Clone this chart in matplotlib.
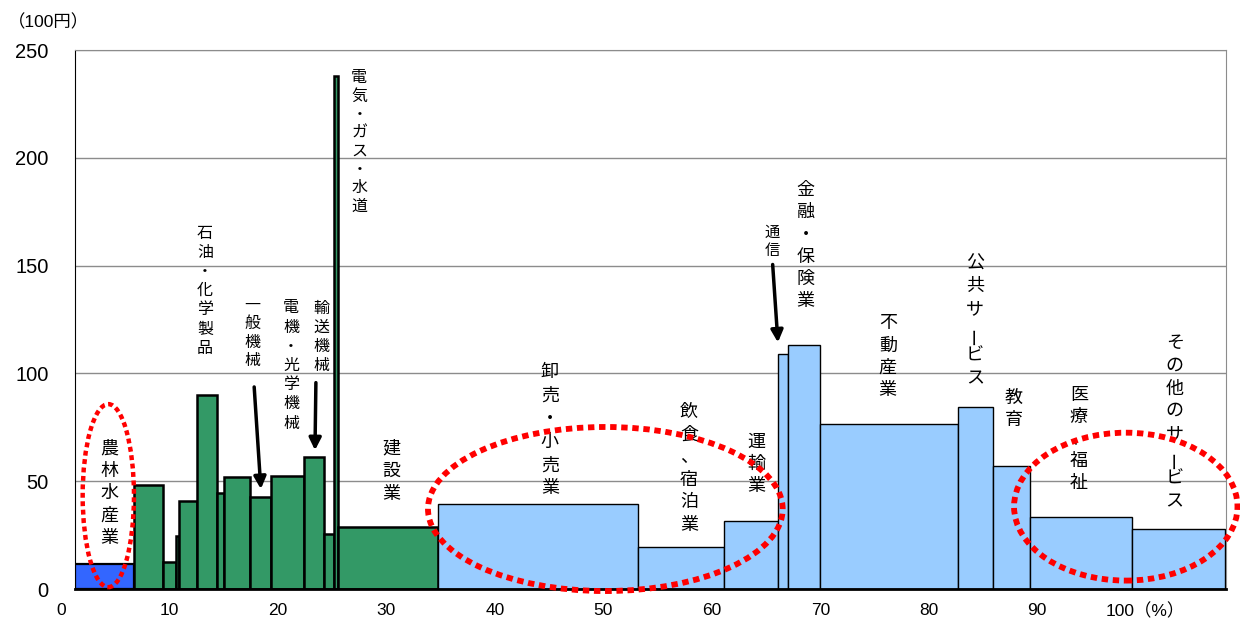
import numpy as np
import matplotlib
matplotlib.use("Agg")
import matplotlib.pyplot as plt
from matplotlib.patches import Ellipse

plt.rcParams['font.family'] = ['Liberation Sans', 'Noto Sans CJK JP']
JP = ['Noto Sans CJK JP', 'DejaVu Sans']

# share of workers (%) and value added per worker (100 yen)
widths = [5.44, 2.70, 1.14, 0.33, 1.60, 1.84, 0.65, 2.45, 1.88, 3.10, 1.84, 0.92,
          0.37, 9.22, 18.43, 7.96, 4.98, 0.92, 2.88, 12.75, 3.23, 3.41, 9.40, 8.57]
heights = [11.7, 48.4, 12.7, 24.4, 41.0, 89.8, 44.4, 51.8, 42.8, 52.4, 61.1, 25.4,
           237.8, 28.9, 39.3, 19.5, 31.7, 108.8, 113.3, 76.5, 84.6, 57.0, 33.2, 27.7]
groups = ['agri'] + ['mfg'] * 13 + ['svc'] * 10
xticks = [10, 20, 30, 40, 50, 60, 70, 80, 90, 100]
xticklabels = ['10', '20', '30', '40', '50', '60', '70', '80', '90', '100（%）']
yticks = [0, 50, 100, 150, 200, 250]

colors = {'agri': '#3366FF', 'mfg': '#339966', 'svc': '#99CCFF'}
edge_lw = {'agri': 1.6, 'mfg': 1.8, 'svc': 1.0}

x_start = 1.29
lefts = x_start + np.concatenate([[0], np.cumsum(widths)[:-1]])

fig = plt.figure(figsize=(12.4, 6.26), dpi=100)
ax = fig.add_axes([0.0605, 0.0591, 0.9282, 0.861])

for l, w, h, g in zip(lefts, widths, heights, groups):
    ax.bar(l, h, width=w, align='edge', color=colors[g], edgecolor='black',
           linewidth=edge_lw[g], zorder=3)

ax.set_yticks(yticks)
ax.yaxis.grid(True, color='#8c8c8c', linewidth=1.0)
ax.set_axisbelow(True)
ax.tick_params(axis='y', length=0, pad=19, labelsize=14.5)
ax.set_xticks(xticks)
ax.set_xticklabels(xticklabels)
ax.tick_params(axis='x', length=0, pad=10, labelsize=12.5)
ax.set_xticks(np.arange(11.89, 100, 10.6), minor=True)
ax.tick_params(axis='x', which='minor', direction='in', length=4, color='#333333', width=1)
ax.set_xlim(x_start, x_start + sum(widths) + 0.1)
ax.set_ylim(0, 250)
ax.text(0, -10.0, '0', fontsize=12.5, ha='center', va='center', clip_on=False)

for s in ['top', 'right']:
    ax.spines[s].set_color('#8c8c8c')
ax.spines['left'].set_color('black')
ax.spines['bottom'].set_linewidth(2)
ax.spines['bottom'].set_zorder(4)

fig.text(0.006, 0.964, '（100円）', fontsize=12.5, ha='left', va='center')


def vlabel(x, ytop, text, step, size=13):
    for i, ch in enumerate(text):
        if ch == 'ー':
            ax.text(x, ytop - i * step - 1.5, ch, fontsize=size, family=JP,
                    rotation=90, ha='center', va='top', zorder=5)
        else:
            ax.text(x, ytop - i * step, ch, fontsize=size, family=JP,
                    ha='center', va='top', zorder=5)


vlabel(4.45, 69.5, '農林水産業', 10.4)
vlabel(13.27, 169.0, '石油・化学製品', 8.9, 11.5)
vlabel(17.67, 135.5, '一般機械', 8.5, 11.5)
vlabel(21.2, 134.3, '電機・光学機械', 8.9, 11.5)
vlabel(24.03, 134.3, '輸送機械', 8.86, 11.5)
vlabel(27.49, 241.0, '電気・ガス・水道', 8.5, 11.5)
vlabel(30.41, 69.5, '建設業', 10.7)
vlabel(45.07, 104.8, '卸売・小売業', 10.8)
vlabel(57.9, 86.4, '飲食、宿泊業', 10.5)
vlabel(64.06, 72.4, '運輸業', 10.3)
vlabel(65.56, 169.5, '通信', 8.4, 11)
vlabel(68.63, 189.2, '金融・保険業', 10.3)
vlabel(76.22, 127.5, '不動産業', 10.4)
vlabel(84.24, 155.3, '公共サービス', 10.7)
vlabel(87.83, 92.7, '教育', 10.1)
vlabel(93.85, 94.1, '医療、福祉', 10.2)
vlabel(102.67, 118.2, 'その他のサービス', 10.5)

arrow = dict(arrowstyle='-|>', color='black', lw=2.5, mutation_scale=18)
ax.annotate('', xy=(18.44, 45.1), xytext=(17.79, 95.0), arrowprops=arrow, zorder=6)
ax.annotate('', xy=(23.41, 63.1), xytext=(23.5, 97.0), arrowprops=arrow, zorder=6)
ax.annotate('', xy=(66.11, 113.1), xytext=(65.59, 151.8), arrowprops=arrow, zorder=6)

dots = dict(fill=False, edgecolor='#FF0000', linestyle=(0, (1.1, 0.8)),
            clip_on=False, zorder=7)
ax.add_patch(Ellipse((4.36, 43.3), 4.73, 84.9, lw=3.2, **dots))
ax.add_patch(Ellipse((50.18, 37.1), 32.7, 76.1, lw=4.2, **dots))
ax.add_patch(Ellipse((98.16, 38.2), 20.6, 68.6, lw=4.2, **dots))

fig.savefig('out.png', dpi=100)
